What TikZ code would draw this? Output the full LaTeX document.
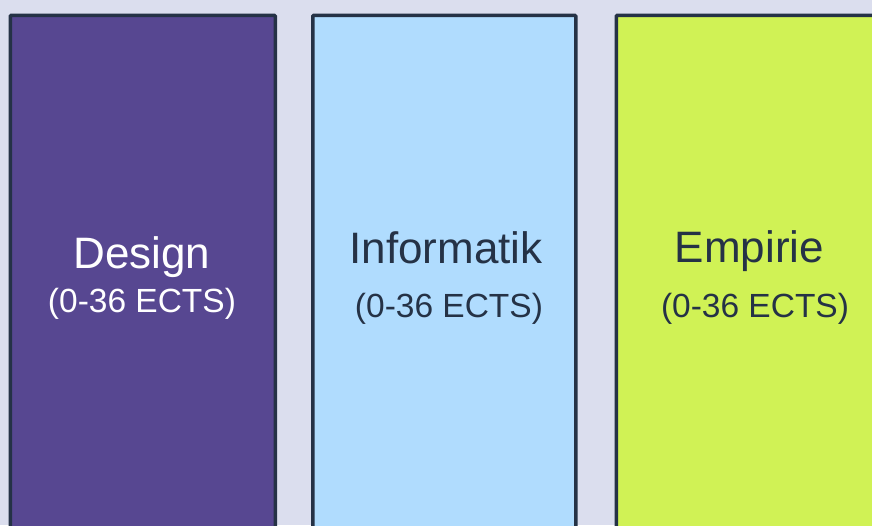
\documentclass[tikz,border=0pt]{standalone}
\usepackage{fontspec}
\setmainfont{Liberation Sans}
\definecolor{bgc}{HTML}{DBDEEE}
\definecolor{edgec}{HTML}{253246}
\definecolor{purplec}{HTML}{574791}
\definecolor{bluec}{HTML}{B0DCFE}
\definecolor{limec}{HTML}{D0F255}
\tikzset{
  colbox/.style={draw=edgec, line width=3.5pt, rounded corners=1pt, anchor=north west, inner sep=0pt, minimum height=560pt},
  title/.style={anchor=base, inner sep=0pt, font=\fontsize{44}{50}\selectfont},
  sub/.style={anchor=base, inner sep=0pt, font=\fontsize{33.5}{40}\selectfont},
}
\begin{document}
\begin{tikzpicture}[x=1pt,y=-1pt]
\useasboundingbox (0,0) rectangle (872,525);
\fill[bgc] (0,0) rectangle (872,525);
\clip (0,0) rectangle (872,525);
\node[colbox, fill=purplec, minimum width=265pt] (design) at (8.5,13.5) {};
\node[colbox, fill=bluec, minimum width=263pt] (info) at (311,13.5) {};
\node[colbox, fill=limec, minimum width=300pt] (emp) at (614.5,13.5) {};
\node[title, text=white] (t1) at (142,268) {Design};
\node[sub, text=white] (s1) at (142,312) {(0-36 ECTS)};
\node[title, text=edgec] (t2) at (446,263) {Informatik};
\node[sub, text=edgec] (s2) at (449,317) {(0-36 ECTS)};
\node[title, text=edgec] (t3) at (749.5,262) {Empirie};
\node[sub, text=edgec] (s3) at (755,317) {(0-36 ECTS)};
\end{tikzpicture}
\end{document}
